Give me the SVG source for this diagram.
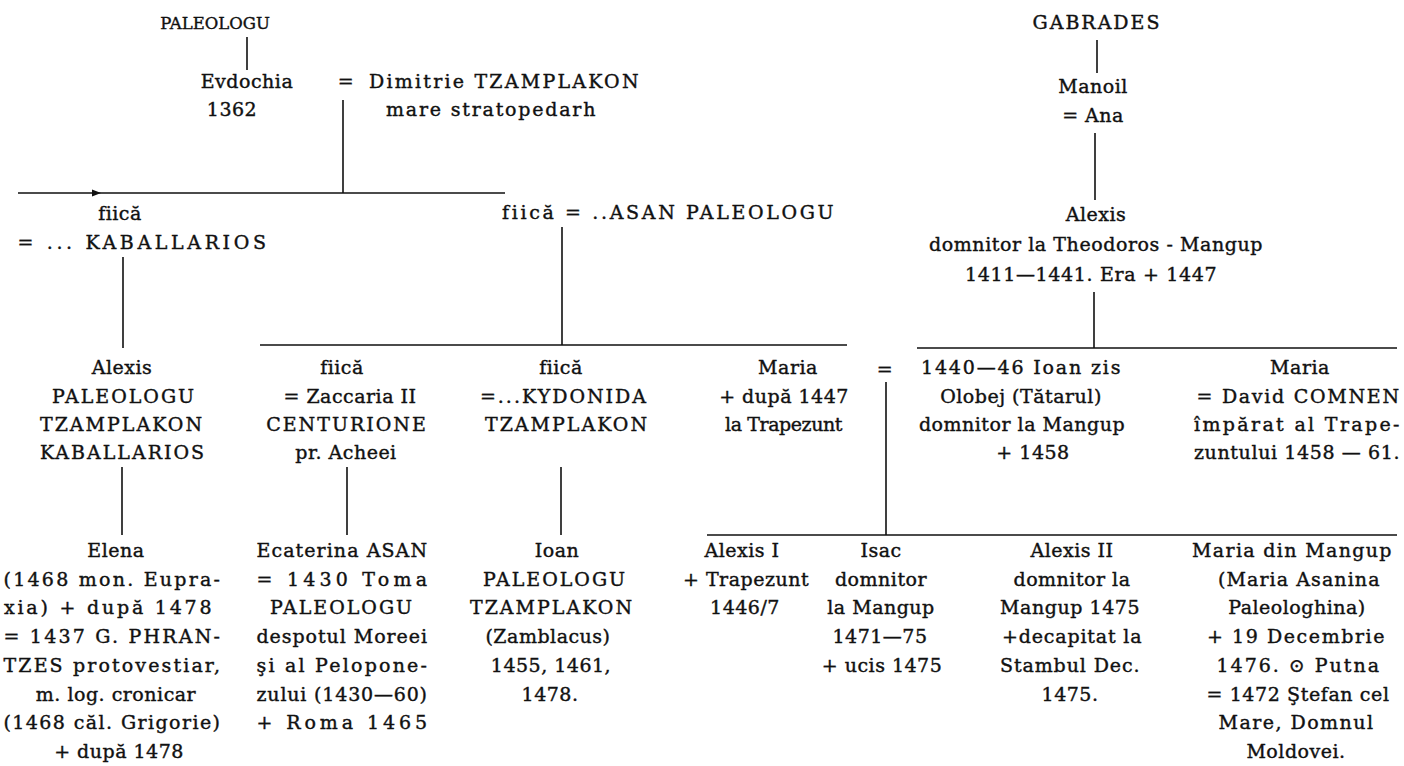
<svg xmlns="http://www.w3.org/2000/svg" width="1404" height="766" viewBox="0 0 1404 766">
<style>
text{font-family:"DejaVu Serif","Liberation Serif","DejaVu Sans",serif;font-size:19px;fill:#111;stroke:#111;stroke-width:0.4px;text-anchor:middle;letter-spacing:0.5px}
.st{text-anchor:start}
.c{letter-spacing:2px}
.h{font-size:16.5px;letter-spacing:0px}
.l{stroke:#111;stroke-width:1.6;fill:none}
</style>
<rect width="1404" height="766" fill="#fff"/>
<g id="connectors">
<path class="l" d="M247 37V70M343 100V193M18 193H505M123 257V348M562 227V345M260 345H847M917 348H1397M1097 40V73M1095 133V200M1094 292V348M122 467V535M347 467V535M561 467V535M886 382V535M707 535H1397"/>
<path d="M92 189.5L101 193L92 196.5Z" fill="#111"/>
</g>
<g id="paleologu"><text class="h" x="215" y="29">PALEOLOGU</text></g>
<g id="evdochia"><text x="247" y="88">Evdochia</text><text x="232" y="116">1362</text></g>
<g id="marriage1"><text x="346" y="88">=</text></g>
<g id="dimitrie"><text x="504" y="88" textLength="270" lengthAdjust="spacing">Dimitrie TZAMPLAKON</text><text x="491" y="116" textLength="210" lengthAdjust="spacing">mare stratopedarh</text></g>
<g id="fiica1"><text x="120" y="220">fiică</text><text x="142" y="249" textLength="249" lengthAdjust="spacing">= ... KABALLARIOS</text></g>
<g id="fiica2"><text class="st" x="502" y="219" textLength="332" lengthAdjust="spacing">fiică = ..ASAN PALEOLOGU</text></g>
<g id="gabrades"><text class="c" x="1097" y="29">GABRADES</text></g>
<g id="manoil"><text x="1093" y="93">Manoil</text><text x="1093" y="122">= Ana</text></g>
<g id="alexis-mangup"><text x="1096" y="221">Alexis</text><text x="1096" y="251" textLength="334" lengthAdjust="spacing">domnitor la Theodoros - Mangup</text><text x="1091" y="281" textLength="252" lengthAdjust="spacing">1411—1441. Era + 1447</text></g>
<g id="alexis-kaballarios"><text x="122" y="374">Alexis</text><text class="c" x="124" y="403">PALEOLOGU</text><text class="c" x="122" y="431">TZAMPLAKON</text><text class="c" x="123" y="459">KABALLARIOS</text></g>
<g id="fiica-zaccaria"><text x="342" y="374">fiică</text><text x="350" y="403">= Zaccaria II</text><text class="c" x="347" y="431">CENTURIONE</text><text x="346" y="459">pr. Acheei</text></g>
<g id="fiica-kydonida"><text x="561" y="374">fiică</text><text class="c" x="564" y="403">=...KYDONIDA</text><text class="c" x="567" y="431">TZAMPLAKON</text></g>
<g id="maria-trapezunt"><text x="788" y="374">Maria</text><text x="784" y="403">+ după 1447</text><text x="784" y="431" textLength="118" lengthAdjust="spacing">la Trapezunt</text></g>
<g id="marriage2"><text x="885" y="376">=</text></g>
<g id="ioan-olobej"><text x="1021" y="374" textLength="200" lengthAdjust="spacing">1440—46 Ioan zis</text><text x="1021" y="403">Olobej (Tătarul)</text><text x="1022" y="431">domnitor la Mangup</text><text x="1033" y="459">+ 1458</text></g>
<g id="maria-comnen"><text x="1300" y="374">Maria</text><text x="1298" y="403" textLength="203" lengthAdjust="spacing">= David COMNEN</text><text x="1297" y="431" textLength="206" lengthAdjust="spacing">împărat al Trape-</text><text x="1297" y="459" textLength="206" lengthAdjust="spacing">zuntului 1458 — 61.</text></g>
<g id="elena"><text x="116" y="557">Elena</text><text x="112" y="586" textLength="217" lengthAdjust="spacing">(1468 mon. Eupra-</text><text x="108" y="614" textLength="208" lengthAdjust="spacing">xia) + după 1478</text><text x="112" y="643" textLength="217" lengthAdjust="spacing">= 1437 G. PHRAN-</text><text x="112" y="672" textLength="217" lengthAdjust="spacing">TZES protovestiar,</text><text x="116" y="701">m. log. cronicar</text><text x="112" y="729" textLength="217" lengthAdjust="spacing">(1468 căl. Grigorie)</text><text x="119" y="758">+ după 1478</text></g>
<g id="ecaterina"><text x="342" y="557" textLength="171" lengthAdjust="spacing">Ecaterina ASAN</text><text x="342" y="586" textLength="171" lengthAdjust="spacing">= 1430 Toma</text><text class="c" x="342" y="614">PALEOLOGU</text><text x="342" y="643" textLength="171" lengthAdjust="spacing">despotul Moreei</text><text x="342" y="672" textLength="171" lengthAdjust="spacing">şi al Pelopone-</text><text x="342" y="701" textLength="171" lengthAdjust="spacing">zului (1430—60)</text><text x="342" y="729" textLength="171" lengthAdjust="spacing">+ Roma 1465</text></g>
<g id="ioan-zamblacus"><text x="557" y="557">Ioan</text><text class="c" x="555" y="586">PALEOLOGU</text><text class="c" x="552" y="614">TZAMPLAKON</text><text x="548" y="643">(Zamblacus)</text><text x="551" y="672">1455, 1461,</text><text x="550" y="701">1478.</text></g>
<g id="alexis-i"><text x="742" y="557">Alexis I</text><text x="746" y="586">+ Trapezunt</text><text x="745" y="614">1446/7</text></g>
<g id="isac"><text x="881" y="557">Isac</text><text x="881" y="586">domnitor</text><text x="881" y="614">la Mangup</text><text x="880" y="643">1471—75</text><text x="882" y="672">+ ucis 1475</text></g>
<g id="alexis-ii"><text x="1072" y="557">Alexis II</text><text x="1072" y="586">domnitor la</text><text x="1070" y="614" textLength="140" lengthAdjust="spacing">Mangup 1475</text><text x="1072" y="643" textLength="140" lengthAdjust="spacing">+decapitat la</text><text x="1070" y="672" textLength="140" lengthAdjust="spacing">Stambul Dec.</text><text x="1070" y="701">1475.</text></g>
<g id="maria-mangup"><text x="1292" y="557" textLength="200" lengthAdjust="spacing">Maria din Mangup</text><text x="1299" y="586" textLength="162" lengthAdjust="spacing">(Maria Asanina</text><text x="1297" y="614">Paleologhina)</text><text x="1296" y="643" textLength="178" lengthAdjust="spacing">+ 19 Decembrie</text><text x="1298" y="672" textLength="163" lengthAdjust="spacing">1476. ⊙ Putna</text><text x="1298" y="701" textLength="183" lengthAdjust="spacing">= 1472 Ştefan cel</text><text x="1296" y="729" textLength="155" lengthAdjust="spacing">Mare, Domnul</text><text x="1296" y="758">Moldovei.</text></g>
</svg>
